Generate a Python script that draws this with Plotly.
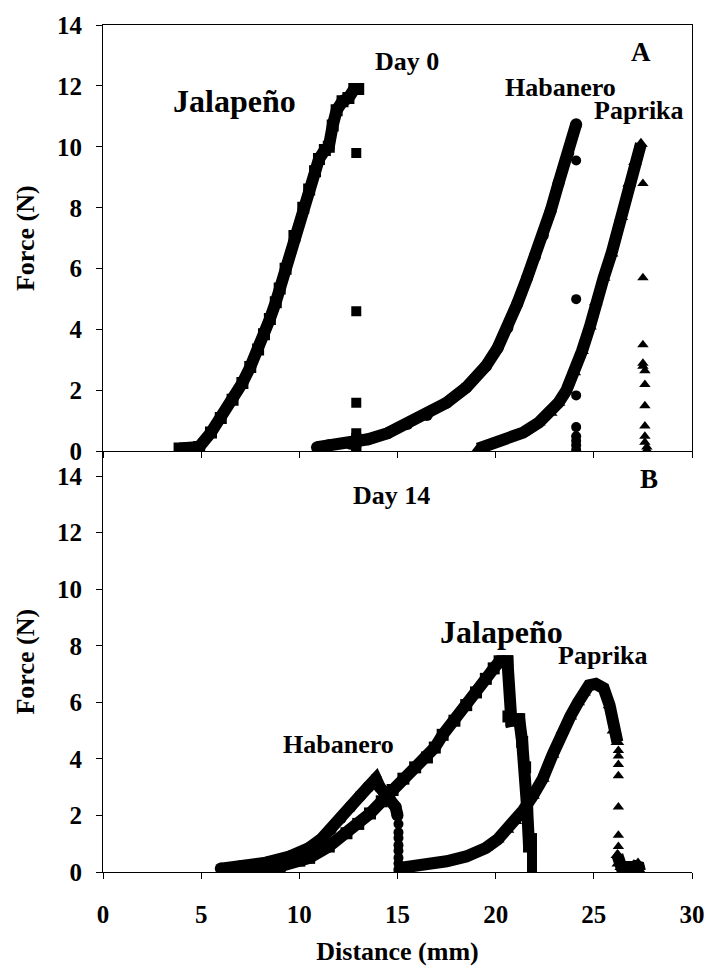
import plotly.graph_objects as go
from plotly.subplots import make_subplots

# ---------------- Day 0 (panel A) ----------------
jal0_x = [3.9, 4.4, 4.9, 5.5, 6.0, 6.6, 7.1, 7.5, 7.9, 8.2, 8.5, 8.8, 9.0, 9.3, 9.75,
          10.2, 10.5, 10.8, 11.0, 11.3, 11.5, 11.7, 11.9, 12.2, 12.5, 12.8, 13.0]
jal0_y = [0.1, 0.1, 0.15, 0.62, 1.1, 1.7, 2.25, 2.77, 3.35, 3.85, 4.35, 4.9, 5.35, 6.0, 7.07,
          8.0, 8.6, 9.2, 9.6, 9.9, 10.0, 10.7, 11.2, 11.5, 11.6, 11.9, 11.9]
jal0_drop_x = [12.9, 12.9, 12.9, 12.9, 12.9, 12.9, 12.9, 12.9]
jal0_drop_y = [9.8, 4.6, 1.6, 0.6, 0.45, 0.3, 0.15, 0.05]

hab0_x = [10.9, 11.5, 12.6, 13.5, 14.5, 15.5, 16.5, 17.5, 18.5, 19.5, 20.1, 20.6,
          21.1, 21.6, 22.0, 22.4, 22.8, 23.2, 23.7, 24.1]
hab0_y = [0.14, 0.2, 0.25, 0.4, 0.6, 0.9, 1.2, 1.6, 2.1, 2.8, 3.4, 4.06,
          4.85, 5.7, 6.4, 7.1, 7.9, 8.8, 9.8, 10.74]
hab0_drop_x = [24.1, 24.1, 24.1, 24.1, 24.1, 24.1, 24.1, 24.1]
hab0_drop_y = [9.55, 5.0, 1.84, 0.8, 0.5, 0.35, 0.2, 0.05]

pap0_x = [19.1, 19.8, 20.5, 21.4, 22.2, 22.8, 23.2, 23.6, 24.0, 24.4, 24.8, 25.1,
          25.5, 25.9, 26.4, 26.8, 27.1, 27.4]
pap0_y = [0.09, 0.25, 0.4, 0.62, 0.95, 1.27, 1.6, 2.0, 2.6, 3.3, 4.1, 4.9,
          5.7, 6.5, 7.7, 8.8, 9.5, 10.1]
pap0_drop_x = [27.5, 27.5, 27.5, 27.5, 27.5, 27.6, 27.6, 27.6, 27.6, 27.6, 27.6, 27.7, 27.7]
pap0_drop_y = [8.8, 5.7, 3.5, 2.9, 2.8, 2.65, 2.2, 1.5, 0.84, 0.5, 0.3, 0.15, 0.05]

# ---------------- Day 14 (panel B) ----------------
hab14_x = [6.0, 7.0, 8.3, 9.5, 10.5, 11.1, 11.6, 12.1, 12.6, 13.1, 13.5, 13.9,
           14.1, 14.3, 14.6, 14.9, 15.0]
hab14_y = [0.12, 0.2, 0.33, 0.55, 0.85, 1.15, 1.5, 1.9, 2.3, 2.7, 3.0, 3.3,
           3.0, 2.85, 2.6, 2.3, 2.0]
hab14_drop_x = [15.05, 15.05, 15.05, 15.05, 15.05, 15.05, 15.05, 15.05, 15.05]
hab14_drop_y = [1.7, 1.4, 1.2, 0.95, 0.75, 0.5, 0.3, 0.1, 0.0]

jal14_x = [6.3, 7.2, 8.1, 9.0, 10.0, 10.5, 11.5, 12.4, 13.0, 13.6, 14.2, 14.75,
           15.3, 15.9, 16.5, 16.9, 17.3, 17.9, 18.5, 19.0, 19.5, 19.9, 20.2, 20.6,
           20.65, 20.8, 21.1, 21.2, 21.35, 21.5, 21.6, 21.7]
jal14_y = [0.05, 0.05, 0.08, 0.2, 0.4, 0.5, 0.9, 1.37, 1.7, 2.07, 2.5, 2.9,
           3.3, 3.7, 4.05, 4.4, 4.85, 5.35, 5.9, 6.35, 6.83, 7.2, 7.45, 7.45,
           5.5, 5.35, 5.4, 5.4, 4.6, 3.7, 2.3, 0.9]
jal14_drop_x = [21.85, 21.85, 21.85, 21.85, 21.85, 21.85]
jal14_drop_y = [1.2, 0.9, 0.6, 0.4, 0.2, 0.05]

pap14_x = [15.2, 16.0, 17.0, 17.5, 18.5, 19.5, 20.1, 20.6, 21.0, 21.4, 21.9, 22.4,
           22.9, 23.4, 23.8, 24.2, 24.5, 24.75, 25.1, 25.5, 25.8, 26.0, 26.2]
pap14_y = [0.15, 0.22, 0.3, 0.38, 0.55, 0.85, 1.15, 1.49, 1.8, 2.18, 2.7, 3.3,
           4.15, 5.0, 5.5, 6.0, 6.35, 6.6, 6.65, 6.5, 5.9, 5.0, 4.6]
pap14_drop_x = [26.25, 26.25, 26.25, 26.25, 26.25, 26.25, 26.25, 26.25]
pap14_drop_y = [4.3, 4.1, 3.8, 3.4, 2.3, 1.3, 0.9, 0.6]
pap14_tail_x = [26.2, 26.25, 26.4, 26.8, 27.1, 27.25, 27.35]
pap14_tail_y = [0.6, 0.3, 0.18, 0.18, 0.18, 0.3, 0.03]

y_ticks = [0, 2, 4, 6, 8, 10, 12, 14]
x_ticks = [0, 5, 10, 15, 20, 25, 30]

FONT = "Liberation Serif"
LW = 12
MS = 12
DS = 10

fig = make_subplots(rows=2, cols=1, vertical_spacing=0)


def curve(x, y, sym, row):
    fig.add_trace(go.Scatter(x=x, y=y, mode="lines+markers",
                             line=dict(color="black", width=LW),
                             marker=dict(symbol=sym, size=MS, color="black"),
                             showlegend=False, hoverinfo="skip"), row=row, col=1)


def dots(x, y, sym, row):
    fig.add_trace(go.Scatter(x=x, y=y, mode="markers",
                             marker=dict(symbol=sym, size=DS, color="black"),
                             showlegend=False, hoverinfo="skip"), row=row, col=1)


curve(jal0_x, jal0_y, "square", 1)
dots(jal0_drop_x, jal0_drop_y, "square", 1)
curve(hab0_x, hab0_y, "circle", 1)
dots(hab0_drop_x, hab0_drop_y, "circle", 1)
curve(pap0_x, pap0_y, "triangle-up", 1)
dots(pap0_drop_x, pap0_drop_y, "triangle-up", 1)

curve(hab14_x, hab14_y, "circle", 2)
dots(hab14_drop_x, hab14_drop_y, "circle", 2)
curve(jal14_x, jal14_y, "square", 2)
dots(jal14_drop_x, jal14_drop_y, "square", 2)
curve(pap14_x, pap14_y, "triangle-up", 2)
dots(pap14_drop_x, pap14_drop_y, "triangle-up", 2)
curve(pap14_tail_x, pap14_tail_y, "triangle-up", 2)

tickfont = dict(family=FONT, size=25, color="black", weight="bold")
titlefont = dict(family=FONT, size=26, color="black", weight="bold")

common_axis = dict(showgrid=False, zeroline=False, showline=True, linecolor="black",
                   linewidth=1, ticks="outside", ticklen=6, tickcolor="black",
                   tickwidth=1, tickfont=tickfont)

fig.update_xaxes(**common_axis, range=[0, 30], tickvals=x_ticks)
fig.update_yaxes(**common_axis, tickvals=y_ticks)

fig.update_layout(
    width=717, height=972,
    margin=dict(l=103, r=14, t=16, b=96),
    plot_bgcolor="white", paper_bgcolor="white",
    xaxis=dict(domain=[0, 1], showticklabels=False, mirror=True, anchor="y"),
    yaxis=dict(domain=[0.4965, 1], range=[0, 14], mirror=True,
               ticklabelstandoff=9,
               title=dict(text="Force (N)", font=titlefont, standoff=14)),
    xaxis2=dict(domain=[0, 1], anchor="y2", ticklabelstandoff=14,
                title=dict(text="Distance (mm)", font=titlefont, standoff=14)),
    yaxis2=dict(domain=[0, 0.4965], range=[0, 14.87], ticklabelstandoff=9,
                title=dict(text="Force (N)", font=titlefont, standoff=14)),
)


def label(text, x, y, size, ref):
    fig.add_annotation(text=text, x=x, y=y, xref="x" + ref, yref="y" + ref,
                       showarrow=False, xanchor="center", yanchor="middle",
                       font=dict(family=FONT, size=size, color="black", weight="bold"))


label("Jalapeño", 6.7, 11.5, 32, "")
label("Day 0", 15.5, 12.8, 26, "")
label("A", 27.4, 13.1, 27, "")
label("Habanero", 23.3, 11.95, 26, "")
label("Paprika", 27.3, 11.2, 26, "")

label("B", 27.8, 13.9, 27, "2")
label("Day 14", 14.7, 13.3, 26, "2")
label("Jalapeño", 20.3, 8.5, 32, "2")
label("Paprika", 25.45, 7.65, 26, "2")
label("Habanero", 12.0, 4.5, 26, "2")

fig.write_html("out.html")
